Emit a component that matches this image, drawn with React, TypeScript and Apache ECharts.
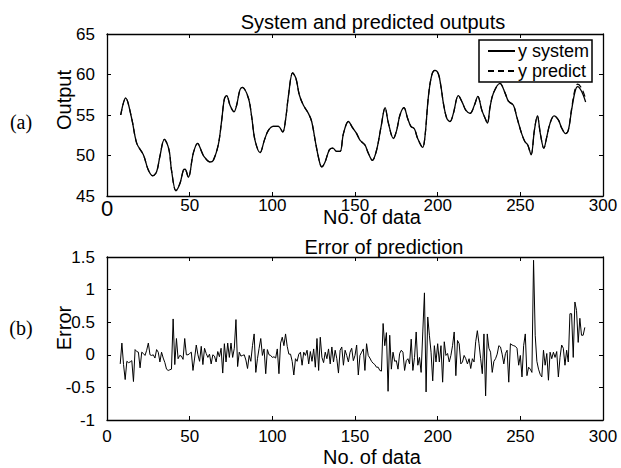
import React, { useEffect, useRef } from "react";
import * as echarts from "echarts";

const xTicks = [0, 50, 100, 150, 200, 250, 300];

// System output: [sample index, value]
const ySystem: [number, number][] = [
  [8.3, 55.0], [11.3, 57.1], [14.9, 54.6], [18, 51.5], [22, 50.1], [25, 48.2], [27.6, 47.5], [30, 48],
  [32, 49.9], [34.7, 52.0], [37.5, 50.7], [39, 48.2], [41.7, 45.65], [44.2, 46.6], [46.2, 48.2], [47.2, 48.3],
  [49.2, 47.3], [52.2, 50.3], [54.8, 51.5], [57.2, 50.5], [58.6, 49.9], [62.3, 49.2], [64.3, 49.4], [67.3, 51.3],
  [69.4, 54.4], [71, 57.0], [72.4, 57.4], [74.4, 56.2], [76.8, 55.4], [78.4, 56.2], [80.4, 58.1], [81.9, 58.4],
  [85.5, 57.1], [87.5, 54.8], [89.5, 51.9], [92.6, 50.35], [95.2, 51.9], [97.6, 53.1], [100.6, 53.6], [103.6, 53.6],
  [106.3, 52.9], [108, 54.4], [109.7, 57.3], [112.3, 60.2], [114.3, 59.5], [116.3, 57.5], [118.8, 56.2], [121.8, 55.2],
  [123.8, 54.2], [126.4, 51.3], [128.8, 49.0], [129.9, 48.6], [131.9, 49.2], [134.5, 50.7], [136.6, 50.9], [139, 50.5],
  [141, 50.5], [143, 52.7], [146, 54.2], [148.6, 53.4], [151, 52.7], [153, 51.9], [156, 51.3], [158, 50.3],
  [160.5, 49.4], [163.1, 50.7], [165.8, 53.6], [168.2, 55.9], [170.2, 54.0], [173.2, 52.1], [175.2, 53.1], [177.2, 55.0],
  [179.6, 55.9], [181.8, 54.6], [183.8, 53.6], [185.9, 53.3], [187.9, 52.1], [190.9, 51.0], [192.3, 52.3], [194.4, 57.3],
  [196.4, 59.9], [198.4, 60.5], [200.4, 60.1], [202, 58.5], [203.5, 56.4], [205.5, 54.6], [207.5, 54.2], [209.5, 55.2],
  [212.5, 57.4], [215, 56.5], [217, 55.6], [219.6, 55.2], [222.2, 56.2], [224.3, 57.3], [226.7, 55.6], [228.7, 54.6],
  [230.1, 54.0], [231.7, 56.0], [233.7, 57.7], [237.7, 58.9], [240.8, 57.7], [242.8, 56.7], [245.8, 56.2], [247.8, 54.8],
  [250.8, 52.7], [252.8, 51.7], [254.5, 51.3], [256.5, 50.1], [258.5, 53.1], [260.3, 54.9], [262.1, 52.7], [264.2, 50.9],
  [266, 52.3], [268, 54.0], [270.4, 54.9], [273, 54.4], [275, 53.4], [277.4, 52.7], [279, 53.1], [281, 55.6],
  [283.1, 57.9], [284.7, 58.5], [287.1, 57.9], [289.5, 56.6],
];

// Predicted output: [sample index, value]
const yPredict: [number, number][] = [
  [8.3, 55.0], [11.3, 57.1], [14.9, 54.6], [18, 51.5], [22, 50.1], [25, 48.2], [27.6, 47.5], [30, 48],
  [32, 49.9], [34.7, 52.0], [37.5, 50.7], [39, 48.2], [41.7, 45.65], [44.2, 46.6], [46.2, 48.2], [47.2, 48.3],
  [49.2, 47.3], [52.2, 50.3], [54.8, 51.5], [57.2, 50.5], [58.6, 49.9], [62.3, 49.2], [64.3, 49.4], [67.3, 51.3],
  [69.4, 54.4], [71, 57.0], [72.4, 57.4], [74.4, 56.2], [76.8, 55.4], [78.4, 56.2], [80.4, 58.1], [81.9, 58.4],
  [85.5, 57.1], [87.5, 54.8], [89.5, 51.9], [92.6, 50.35], [95.2, 51.9], [97.6, 53.1], [100.6, 53.6], [103.6, 53.6],
  [106.3, 52.9], [108, 54.4], [109.7, 57.3], [112.3, 60.2], [114.3, 59.5], [116.3, 57.5], [118.8, 56.2], [121.8, 55.2],
  [123.8, 54.2], [126.4, 51.3], [128.8, 49.0], [129.9, 48.6], [131.9, 49.2], [134.5, 50.7], [136.6, 50.9], [139, 50.5],
  [141, 50.5], [143, 52.7], [146, 54.2], [148.6, 53.4], [151, 52.7], [153, 51.9], [156, 51.3], [158, 50.3],
  [160.5, 49.4], [163.1, 50.7], [165.8, 53.6], [168.2, 55.9], [170.2, 54.0], [173.2, 52.1], [175.2, 53.1], [177.2, 55.0],
  [179.6, 55.9], [181.8, 54.6], [183.8, 53.6], [185.9, 53.3], [187.9, 52.1], [190.9, 51.0], [192.3, 52.3], [194.4, 57.3],
  [196.4, 59.9], [198.4, 60.5], [200.4, 60.1], [202, 58.5], [203.5, 56.4], [205.5, 54.6], [207.5, 54.2], [209.5, 55.2],
  [212.5, 57.4], [215, 56.5], [217, 55.6], [219.6, 55.2], [222.2, 56.2], [224.3, 57.3], [226.7, 55.6], [228.7, 54.6],
  [230.1, 54.0], [231.7, 56.0], [233.7, 57.7], [237.7, 58.9], [240.8, 57.7], [242.8, 56.7], [245.8, 56.2], [247.8, 54.8],
  [250.8, 52.7], [252.8, 51.7], [254.5, 51.3], [256.5, 50.1], [258.5, 53.1], [260.3, 54.9], [262.1, 52.7], [264.2, 50.9],
  [266, 52.3], [268, 54.0], [270.4, 54.9], [273, 54.4], [275, 53.4], [277.4, 52.7], [279, 53.1], [281, 55.8],
  [283.1, 58.2], [284.7, 58.8], [287.1, 58.3], [289.5, 57.0],
];

// Prediction error, one value per sample starting at errStart
const errStart = 8;
const errValues: number[] = [
  -0.14, 0.18, -0.15, -0.38, -0.1, -0.12, -0.11, -0.09, -0.41, 0.08, // 8-17
  0.05, 0.04, -0.2, 0.04, 0.02, -0.01, 0.07, 0.18, 0, -0.01, // 18-27
  0.0, -0.05, 0.08, 0.04, -0.11, 0.04, -0.05, -0.12, -0.22, -0.24, // 28-37
  -0.23, -0.22, 0.55, -0.15, 0.25, -0.06, -0.01, -0.02, -0.07, 0.25, // 38-47
  0.0, 0.0, 0.02, 0.04, -0.24, -0.05, 0.15, 0.0, -0.1, 0.13, // 48-57
  -0.15, 0.1, 0.02, -0.04, 0.01, -0.14, 0.0, -0.02, -0.11, 0.05, // 58-67
  -0.03, 0.1, -0.28, 0.17, -0.11, 0.18, -0.04, 0.18, -0.04, 0.1, // 68-77
  0.54, -0.18, 0.04, -0.02, -0.01, 0.0, -0.08, -0.21, -0.01, -0.1, // 78-87
  0.14, 0.32, -0.27, -0.06, 0.1, 0.25, -0.01, 0.09, -0.29, 0.08, // 88-97
  0.0, -0.01, -0.04, -0.03, -0.05, 0.09, -0.29, 0.18, 0.27, 0.14, // 98-107
  0.32, 0.13, 0.01, 0.01, -0.1, -0.31, -0.06, -0.1, 0.01, 0.04, // 108-117
  -0.16, 0.04, -0.01, 0.07, -0.14, 0.05, -0.1, 0.09, -0.19, 0.25, // 118-127
  -0.24, 0.27, -0.04, -0.12, 0.04, -0.06, 0.09, -0.14, 0.12, -0.11, // 128-137
  0.07, -0.06, -0.28, 0.07, 0.12, -0.16, 0.07, -0.01, -0.11, 0.04, // 138-147
  0.1, -0.09, -0.01, 0.15, -0.31, -0.01, 0.04, 0.09, -0.24, 0.17, // 148-157
  -0.01, -0.05, -0.1, -0.13, -0.15, -0.19, -0.19, -0.24, -0.25, 0.48, // 158-167
  0.14, 0.34, -0.56, 0.3, -0.22, 0.04, -0.1, -0.09, -0.22, 0.02, // 168-177
  0.07, 0.04, -0.24, -0.09, -0.06, -0.14, 0.24, -0.24, -0.04, 0.35, // 178-187
  -0.16, -0.04, -0.27, 0.35, 0.95, -0.57, 0.58, 0.3, 0.04, -0.4, // 188-197
  0.14, -0.11, 0.17, -0.11, 0.14, -0.42, 0.2, -0.01, 0.02, -0.11, // 198-207
  -0.01, 0.14, 0.35, -0.32, 0.22, 0.17, -0.14, -0.11, -0.01, -0.06, // 208-217
  -0.14, -0.06, -0.21, -0.06, -0.11, 0.2, 0.37, 0.17, -0.06, -0.29, // 218-227
  0.32, -0.63, 0.32, 0.1, 0.04, -0.27, -0.1, -0.06, 0.01, 0.14, // 228-237
  0.12, 0.01, -0.14, 0.02, 0.07, -0.42, 0.17, 0.15, 0.14, 0.13, // 238-247
  0.1, -0.16, -0.01, -0.34, 0.14, 0.32, -0.32, -0.19, -0.22, -0.27, // 248-257
  1.45, 0.3, -0.1, -0.22, -0.3, -0.34, 0.07, -0.16, 0.02, -0.39, // 258-267
  0.04, -0.06, 0.04, -0.04, 0.05, -0.34, -0.04, 0.15, 0.1, -0.16, // 268-277
  0.07, -0.11, 0.63, 0.63, -0.04, 0.81, 0.68, 0.19, 0.56, 0.3, // 278-287
  0.3, 0.42, // 288-289
];

const FONT = "'Liberation Sans', Arial, Helvetica, sans-serif";
const SERIF = "'Liberation Serif', 'Times New Roman', serif";

export default function App() {
  const ref = useRef<HTMLDivElement>(null);
  useEffect(() => {
    if (!ref.current) return;
    const chart = echarts.init(ref.current, undefined, { renderer: "svg" });
    const errData = errValues.map((v, i) => [errStart + i, v]);

    const boxAxis = (extra: any) => ({
      axisLine: { show: true, onZero: false, lineStyle: { color: "#000", width: 1.3 } },
      axisTick: { show: true, inside: true, length: 4, lineStyle: { color: "#000", width: 1 } },
      splitLine: { show: false },
      ...extra,
    });

    const xLabel = (margin: number, bigZero: boolean) => ({
      show: true,
      color: "#000",
      fontSize: 17,
      fontFamily: FONT,
      margin,
      formatter: (v: number) => (bigZero && v === 0 ? "{big|0}" : String(v)),
      rich: { big: { fontSize: 22, fontFamily: FONT, color: "#000" } },
    });
    const yLabel = {
      show: true,
      color: "#000",
      fontSize: 17,
      fontFamily: FONT,
      margin: 12,
    };

    chart.setOption({
      animation: false,
      backgroundColor: "#fff",
      grid: [
        { left: 107, top: 34, width: 496, height: 162, show: false },
        { left: 107, top: 257, width: 496, height: 163, show: false },
      ],
      xAxis: [
        boxAxis({ type: "value", gridIndex: 0, position: "bottom", min: xTicks[0], max: xTicks[xTicks.length - 1], interval: 50, axisLabel: xLabel(1, true) }),
        boxAxis({ type: "value", gridIndex: 0, position: "top", min: xTicks[0], max: xTicks[xTicks.length - 1], interval: 50, axisLabel: { show: false } }),
        boxAxis({ type: "value", gridIndex: 1, position: "bottom", min: xTicks[0], max: xTicks[xTicks.length - 1], interval: 50, axisLabel: xLabel(8, false) }),
        boxAxis({ type: "value", gridIndex: 1, position: "top", min: xTicks[0], max: xTicks[xTicks.length - 1], interval: 50, axisLabel: { show: false } }),
      ],
      yAxis: [
        boxAxis({ type: "value", gridIndex: 0, position: "left", min: 45, max: 65, interval: 5, axisLabel: yLabel }),
        boxAxis({ type: "value", gridIndex: 0, position: "right", min: 45, max: 65, interval: 5, axisLabel: { show: false } }),
        boxAxis({ type: "value", gridIndex: 1, position: "left", min: -1, max: 1.5, interval: 0.5, axisLabel: yLabel }),
        boxAxis({ type: "value", gridIndex: 1, position: "right", min: -1, max: 1.5, interval: 0.5, axisLabel: { show: false } }),
      ],
      legend: {
        data: ["y system", "y predict"],
        orient: "vertical",
        left: 479,
        top: 40,
        borderColor: "#000",
        borderWidth: 1.5,
        backgroundColor: "#fff",
        padding: [1, 3, 1, 8],
        itemGap: 0,
        itemWidth: 27,
        itemHeight: 1,
        textStyle: { fontSize: 18, fontFamily: FONT, color: "#000", lineHeight: 20, padding: [0, 0, 0, -2] },
      },
      series: [
        {
          name: "y system",
          type: "line",
          xAxisIndex: 0,
          yAxisIndex: 0,
          data: ySystem,
          symbol: "none",
          smooth: 0.35,
          lineStyle: { color: "#000", width: 1.3 },
          itemStyle: { color: "#000" },
        },
        {
          name: "y predict",
          type: "line",
          xAxisIndex: 0,
          yAxisIndex: 0,
          data: yPredict,
          symbol: "none",
          smooth: 0.35,
          lineStyle: { color: "#000", width: 1.2, type: [6, 4] },
          itemStyle: { color: "#000" },
        },
        {
          name: "error",
          type: "line",
          xAxisIndex: 2,
          yAxisIndex: 2,
          data: errData,
          symbol: "none",
          lineStyle: { color: "#000", width: 1 },
          itemStyle: { color: "#000" },
        },
      ],
      graphic: [
        { type: "text", x: 373, y: 22, style: { text: "System and predicted outputs", font: `20px ${FONT}`, fill: "#000", textAlign: "center", textVerticalAlign: "middle" } },
        { type: "text", x: 372, y: 217, style: { text: "No. of data", font: `20px ${FONT}`, fill: "#000", textAlign: "center", textVerticalAlign: "middle" } },
        { type: "text", x: 384, y: 247, style: { text: "Error of prediction", font: `20px ${FONT}`, fill: "#000", textAlign: "center", textVerticalAlign: "middle" } },
        { type: "text", x: 372, y: 457, style: { text: "No. of data", font: `20px ${FONT}`, fill: "#000", textAlign: "center", textVerticalAlign: "middle" } },
        { type: "text", x: 64, y: 100, rotation: Math.PI / 2, style: { text: "Output", font: `20px ${FONT}`, fill: "#000", textAlign: "center", textVerticalAlign: "middle" } },
        { type: "text", x: 64, y: 328, rotation: Math.PI / 2, style: { text: "Error", font: `20px ${FONT}`, fill: "#000", textAlign: "center", textVerticalAlign: "middle" } },
        { type: "text", x: 21, y: 122, style: { text: "(a)", font: `20px ${SERIF}`, fill: "#000", textAlign: "center", textVerticalAlign: "middle" } },
        { type: "text", x: 21, y: 328, style: { text: "(b)", font: `20px ${SERIF}`, fill: "#000", textAlign: "center", textVerticalAlign: "middle" } },
      ],
    });
    return () => chart.dispose();
  }, []);

  return (
    <div
      ref={ref}
      style={{ position: "fixed", left: 0, top: 0, width: 621, height: 468, background: "#fff" }}
    />
  );
}
